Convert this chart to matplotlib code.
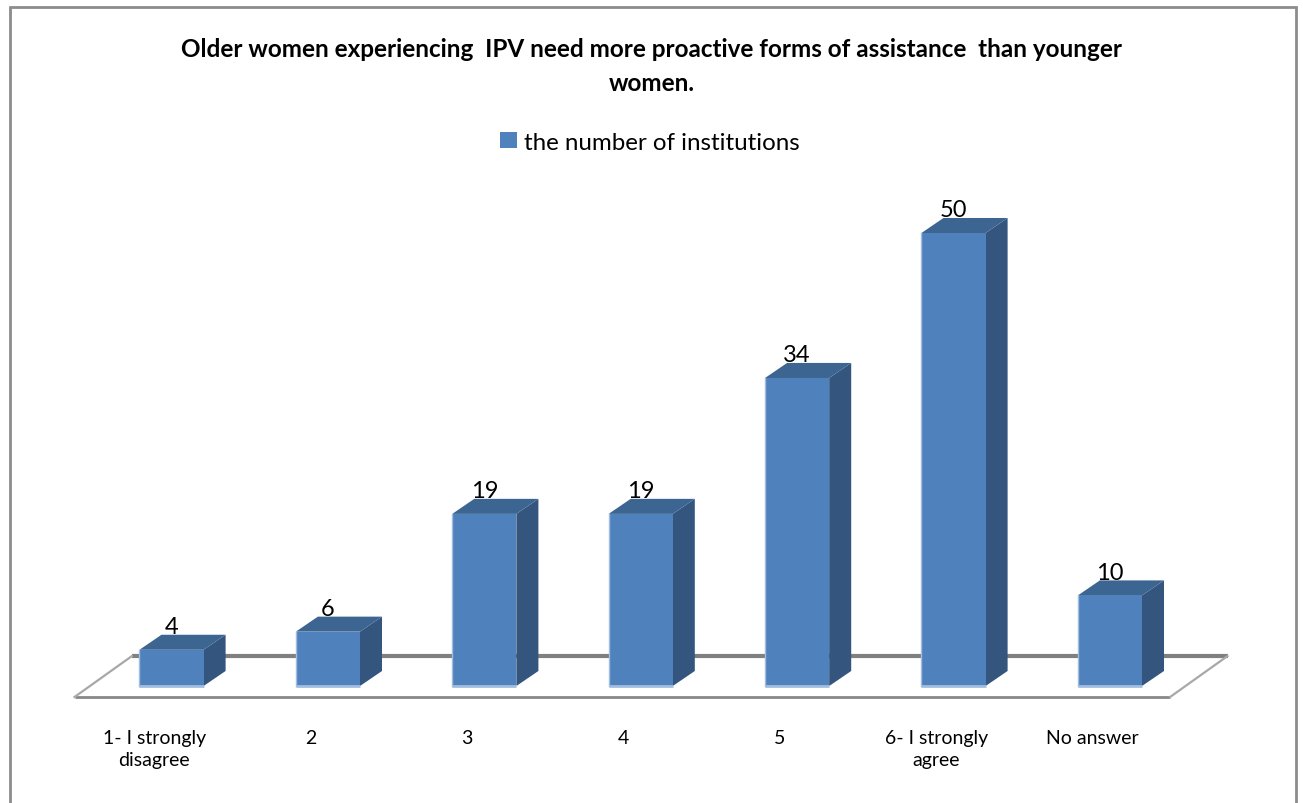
import matplotlib
matplotlib.use("Agg")
import matplotlib.pyplot as plt
from matplotlib.patches import Polygon, Rectangle

# Survey data
title = "Older women experiencing  IPV need more proactive forms of assistance  than younger\nwomen."
series_name = "the number of institutions"
categories = ["1- I strongly\ndisagree", "2", "3", "4", "5", "6- I strongly\nagree", "No answer"]
values = [4, 6, 19, 19, 34, 50, 10]

W, H, DPI = 1303, 804, 100
fig = plt.figure(figsize=(W / DPI, H / DPI), dpi=DPI)
fig.patch.set_facecolor("white")

# Axes spans the whole canvas; data units: one category step in x, one institution in y
ax = fig.add_axes([0, 0, 1, 1])
ax.set_xlim(-1.0965, 7.2347)
ax.set_ylim(-12.91, 75.83)
ax.axis("off")

FRONT = "#4F81BD"
SIDE = "#34557D"
TOP = "#3D6592"
EDGE_LIGHT = "#A3BDDF"
FLOOR = "#808080"

half = 0.205      # half bar width
ddx = 0.141       # depth offset in x
ddy = 1.66        # depth offset in y

n = len(values)

# Floor (drawn first so bars cover its back edge)
fl, fr = -0.62, n - 1 + 0.385
fdx, fdy = 0.367, 4.52
fy = -1.21
ax.plot([fl + fdx, fr + fdx], [fy + fdy, fy + fdy], color=FLOOR, lw=3.0, zorder=1, solid_capstyle="butt")
ax.plot([fl, fr], [fy, fy], color="#888888", lw=2.0, zorder=1, solid_capstyle="butt")
ax.plot([fl, fl + fdx], [fy, fy + fdy], color="#A8A8A8", lw=1.6, zorder=1)
ax.plot([fr, fr + fdx], [fy, fy + fdy], color="#A8A8A8", lw=1.6, zorder=1)

for i, v in enumerate(values):
    x0, x1 = i - half, i + half
    side = Polygon([(x1, 0), (x1 + ddx, ddy), (x1 + ddx, v + ddy), (x1, v)],
                   closed=True, facecolor=SIDE, edgecolor="none", zorder=3)
    top = Polygon([(x0, v), (x1, v), (x1 + ddx, v + ddy), (x0 + ddx, v + ddy)],
                  closed=True, facecolor=TOP, edgecolor="none", zorder=3)
    front = Rectangle((x0, 0), 2 * half, v, facecolor=FRONT, edgecolor="none", zorder=4)
    ax.add_patch(side)
    ax.add_patch(top)
    ax.add_patch(front)
    ax.plot([x0, x1], [0, 0], color=EDGE_LIGHT, lw=2.0, zorder=5, solid_capstyle="butt")
    ax.plot([x0, x0], [0, v], color=EDGE_LIGHT, lw=1.0, zorder=5)
    ax.text(i, v + ddy + 0.2, str(v), ha="center", va="baseline",
            fontsize=17, family="Lato", color="black", zorder=6)
    ax.text(i - 0.11, -4.7, categories[i], ha="center", va="top",
            fontsize=14, family="Lato", color="black", linespacing=1.4)

# Title
fig.text(0.5, 1 - 38 / H, title, ha="center", va="top", fontsize=17.5,
         fontweight="bold", family="Lato", linespacing=1.6)

# Legend entry
fig.patches.append(Rectangle((500 / W, 1 - 149 / H), 17 / W, 16 / H,
                             transform=fig.transFigure, facecolor=FRONT, edgecolor="none"))
fig.text(524 / W, 1 - 143 / H, series_name, ha="left", va="center",
         fontsize=17.4, family="Lato", color="black")

# Outer border
fig.patches.append(Rectangle((10 / W, -0.01), 1286 / W, 1 - 8 / H + 0.01,
                             transform=fig.transFigure, facecolor="none",
                             edgecolor="#8C8C8C", lw=2.0))

fig.savefig("out.png", dpi=DPI)
